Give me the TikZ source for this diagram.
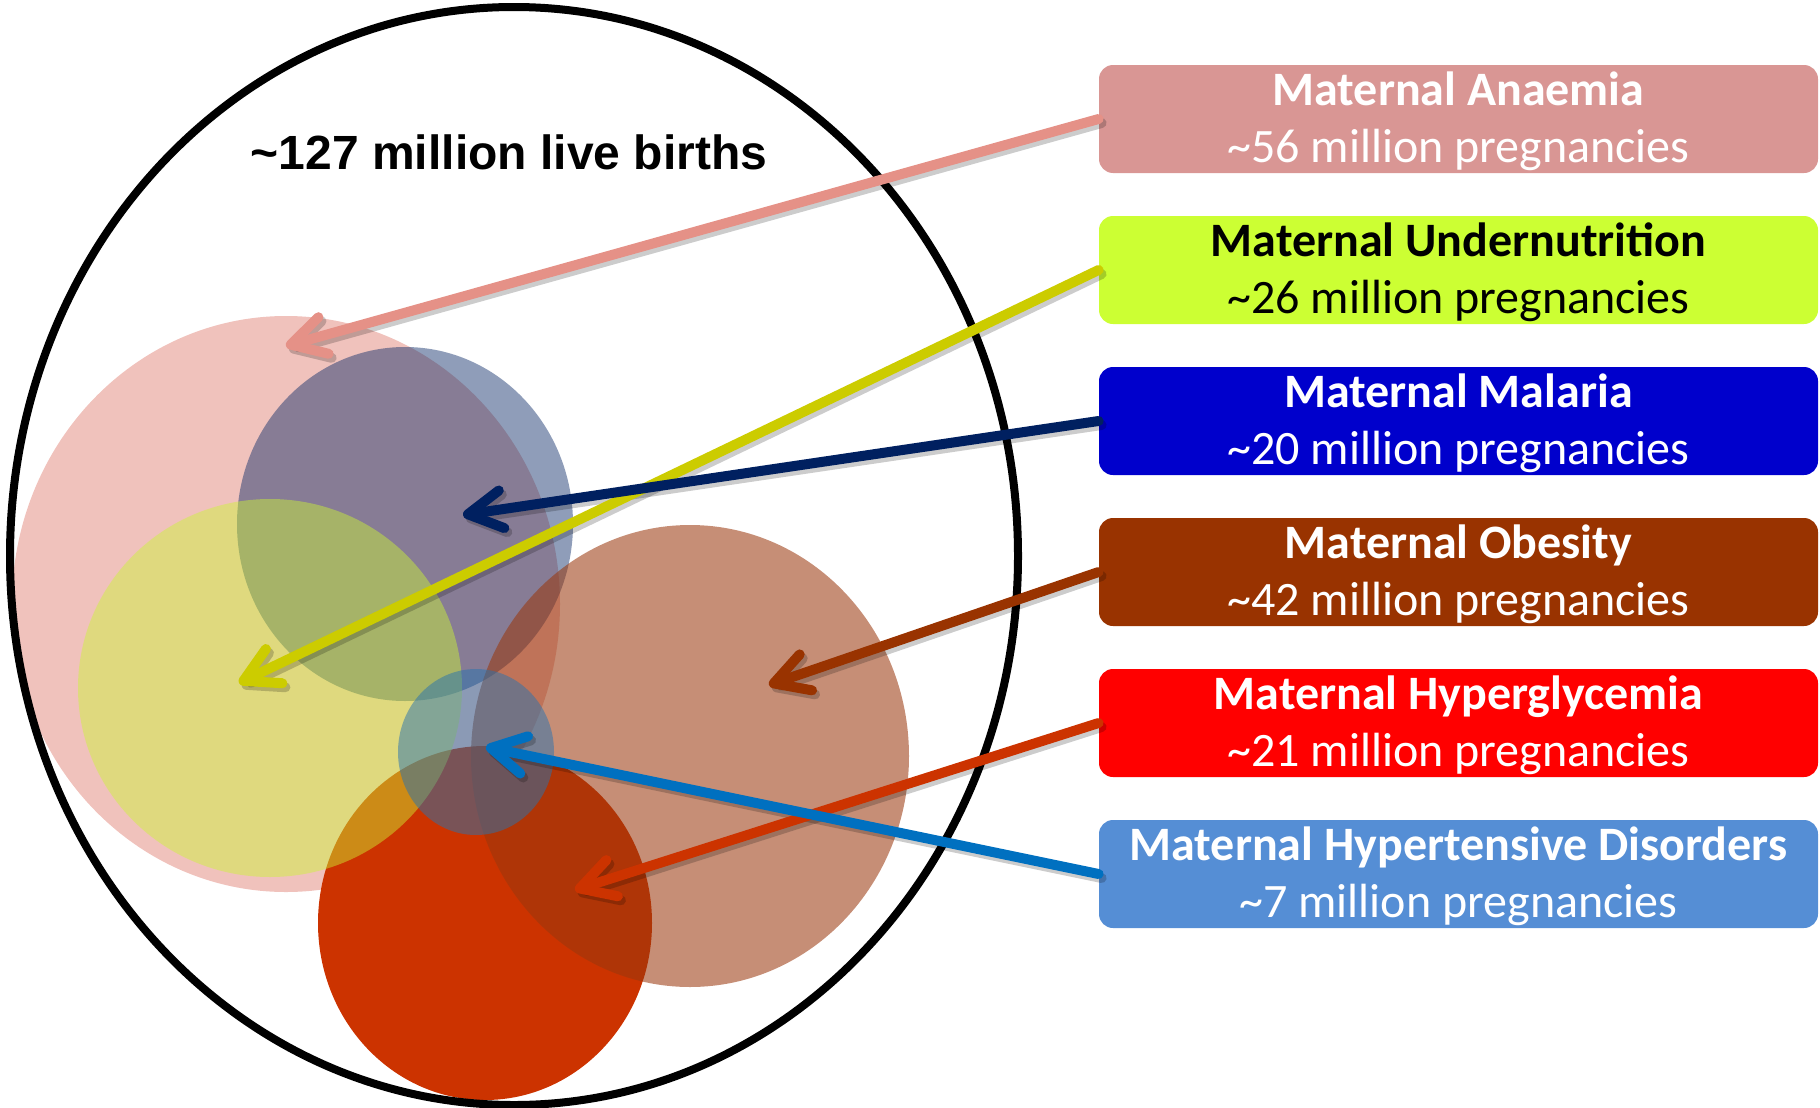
\documentclass[tikz,border=0pt]{standalone}
\usepackage{fontspec}
\setmainfont{Carlito}
\newfontfamily\arialfont{Liberation Sans}
\usetikzlibrary{arrows.meta,calc,shapes.geometric}

\definecolor{pinkE}{RGB}{240,194,188}
\definecolor{blueE}{RGB}{17,47,106}
\definecolor{redE}{RGB}{204,51,0}
\definecolor{yellowE}{RGB}{204,247,51}
\definecolor{brownE}{RGB}{154,56,14}
\definecolor{smallE}{RGB}{40,115,175}

\definecolor{boxAnaemia}{RGB}{217,150,148}
\definecolor{boxUnder}{RGB}{204,255,51}
\definecolor{boxMalaria}{RGB}{0,0,204}
\definecolor{boxObesity}{RGB}{153,51,0}
\definecolor{boxHyperg}{RGB}{255,0,0}
\definecolor{boxHypert}{RGB}{85,142,213}

\definecolor{arrAnaemia}{RGB}{229,145,135}
\definecolor{arrUnder}{RGB}{204,204,0}
\definecolor{arrMalaria}{RGB}{0,32,96}
\definecolor{arrObesity}{RGB}{153,51,0}
\definecolor{arrHyperg}{RGB}{204,51,0}
\definecolor{arrHypert}{RGB}{0,112,192}

\begin{document}
\begin{tikzpicture}[x=0.5pt,y=-0.5pt,
  blob/.style={ellipse, draw=none, inner sep=0pt, outer sep=0pt},
  catbox/.style={rectangle, rounded corners=7pt, draw=none, inner sep=0pt,
    minimum width=359.5pt, minimum height=54pt},
  boxtitle/.style={anchor=base, font=\bfseries\fontsize{24}{28}\selectfont},
  boxnum/.style={anchor=base, font=\fontsize{24}{28}\selectfont},
  arrshadow/.style={draw=black, draw opacity=0.2, line width=5pt, line cap=round,
    -{Straight Barb[length=17pt, width=19pt, line cap=round, line join=round]}},
  arr/.style={line width=5pt, line cap=round,
    -{Straight Barb[length=17pt, width=19pt, line cap=round, line join=round]}},
]
\useasboundingbox (0,0) rectangle (1820,1108);

% ellipses
\node[blob, fill=pinkE, minimum width=274pt, minimum height=288pt] (anaemiaE) at (286,604) {};
\node[blob, fill=blueE, fill opacity=0.47, minimum width=168pt, minimum height=177pt] (malariaE) at (405,524) {};
\node[blob, fill=redE, minimum width=167pt, minimum height=177pt] (hypergE) at (485,923) {};
\node[blob, fill=yellowE, fill opacity=0.45, minimum width=192pt, minimum height=189pt] (underE) at (270,688) {};
\node[blob, fill=brownE, fill opacity=0.57, minimum width=219pt, minimum height=231pt] (obesityE) at (690,756) {};
\node[blob, fill=smallE, fill opacity=0.5, minimum width=78pt, minimum height=83pt] (hypertE) at (476,752) {};

% outer ellipse
\node[blob, draw=black, line width=4pt, minimum width=504pt, minimum height=549pt] (births) at (514,556) {};
\node[anchor=base, font=\arialfont\bfseries\fontsize{24}{28}\selectfont] (birthsT) at (509,169) {\textasciitilde127 million live births};

% boxes
\node[catbox, fill=boxAnaemia] (anaemia) at (1458.5,119) {};
\node[catbox, fill=boxUnder]   (under)   at (1458.5,270) {};
\node[catbox, fill=boxMalaria] (malaria) at (1458.5,421) {};
\node[catbox, fill=boxObesity] (obesity) at (1458.5,572) {};
\node[catbox, fill=boxHyperg]  (hyperg)  at (1458.5,723) {};
\node[catbox, fill=boxHypert]  (hypert)  at (1458.5,874) {};

% arrow tips
\coordinate (tA) at (286,346);
\coordinate (tU) at (239,683);
\coordinate (tM) at (463,515);
\coordinate (tO) at (769,685);
\coordinate (tH) at (575,890);
\coordinate (tT) at (486,747);

% arrow shadows
\begin{scope}[transform canvas={shift={(1.5pt,-2pt)}}]
\draw[arrshadow] (anaemia.west) -- (tA);
\draw[arrshadow] (under.west) -- (tU);
\draw[arrshadow] (malaria.west) -- (tM);
\draw[arrshadow] (obesity.west) -- (tO);
\draw[arrshadow] (hyperg.west) -- (tH);
\draw[arrshadow] (hypert.west) -- (tT);
\end{scope}

% arrows
\draw[arr, draw=arrAnaemia] (anaemia.west) -- (tA);
\draw[arr, draw=arrUnder]   (under.west) -- (tU);
\draw[arr, draw=arrMalaria] (malaria.west) -- (tM);
\draw[arr, draw=arrObesity] (obesity.west) -- (tO);
\draw[arr, draw=arrHyperg]  (hyperg.west) -- (tH);
\draw[arr, draw=arrHypert]  (hypert.west) -- (tT);

% box texts
\node[boxtitle, text=white] (anaemiaA) at ($(anaemia.north)+(0,41)$) {Maternal Anaemia};
\node[boxnum,   text=white] (anaemiaB) at ($(anaemia.north)+(0,98)$) {\textasciitilde56 million pregnancies};
\node[boxtitle, text=black] (underA) at ($(under.north)+(0,41)$) {Maternal Undernutrition};
\node[boxnum,   text=black] (underB) at ($(under.north)+(0,98)$) {\textasciitilde26 million pregnancies};
\node[boxtitle, text=white] (malariaA) at ($(malaria.north)+(0,41)$) {Maternal Malaria};
\node[boxnum,   text=white] (malariaB) at ($(malaria.north)+(0,98)$) {\textasciitilde20 million pregnancies};
\node[boxtitle, text=white] (obesityA) at ($(obesity.north)+(0,41)$) {Maternal Obesity};
\node[boxnum,   text=white] (obesityB) at ($(obesity.north)+(0,98)$) {\textasciitilde42 million pregnancies};
\node[boxtitle, text=white] (hypergA) at ($(hyperg.north)+(0,41)$) {Maternal Hyperglycemia};
\node[boxnum,   text=white] (hypergB) at ($(hyperg.north)+(0,98)$) {\textasciitilde21 million pregnancies};
\node[boxtitle, text=white] (hypertA) at ($(hypert.north)+(0,41)$) {Maternal Hypertensive Disorders};
\node[boxnum,   text=white] (hypertB) at ($(hypert.north)+(0,98)$) {\textasciitilde7 million pregnancies};
\end{tikzpicture}
\end{document}
